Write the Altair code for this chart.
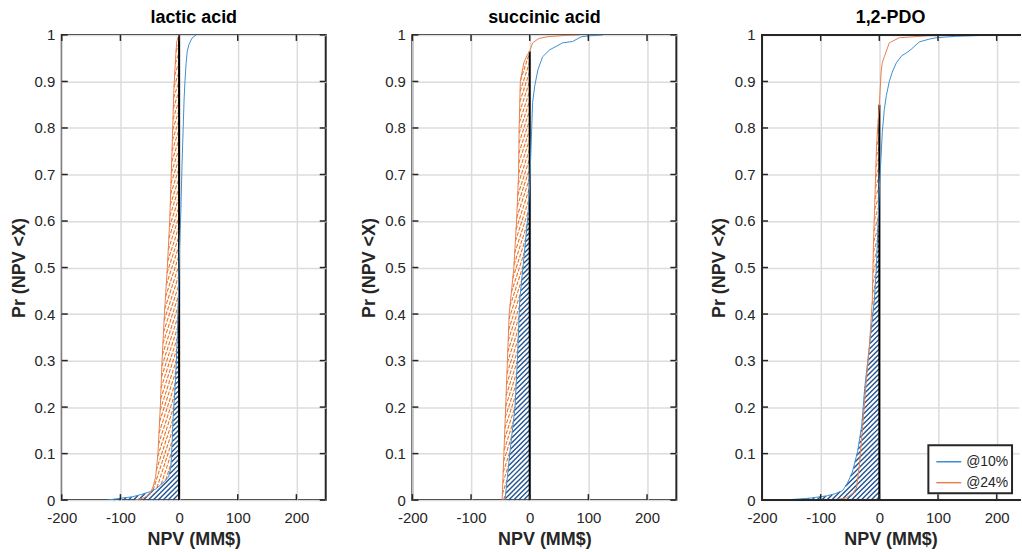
import altair as alt
import numpy as np
import pandas as pd

panels = ["lactic acid", "succinic acid", "1,2-PDO"]
series = ["@10%", "@24%"]
x_ticks = [-200, -100, 0, 100, 200]
y_ticks = [0, 0.1, 0.2, 0.3, 0.4, 0.5, 0.6, 0.7, 0.8, 0.9, 1]

# ---- lactic acid ----
lac_b_x = [-122, -100, -80, -65, -50, -40, -34, -25, -18, -14, -12, -10, -6, -3, -1, 1, 3, 5, 7, 8.5, 10, 12, 14, 17, 22, 29]
lac_b_y = [0, 0.004, 0.007, 0.012, 0.018, 0.024, 0.03, 0.04, 0.05, 0.07, 0.12, 0.18, 0.26, 0.35, 0.45, 0.55, 0.62, 0.72, 0.8, 0.86, 0.9, 0.94, 0.965, 0.98, 0.993, 1.0]
lac_o_x = [-75, -60, -50, -44, -40, -36, -32, -29, -25, -20, -16, -12, -9, -6, -4, -2, 0, 3]
lac_o_y = [0, 0.005, 0.012, 0.03, 0.05, 0.1, 0.2, 0.3, 0.4, 0.5, 0.6, 0.75, 0.88, 0.95, 0.985, 0.995, 0.998, 1.0]

# ---- succinic acid ----
suc_b_x = [-42, -38, -34, -25, -21, -17, -10, -3, 0, 2, 3.4, 5, 8.5, 14, 22, 34, 46, 56, 73, 88, 100, 125]
suc_b_y = [0, 0.05, 0.1, 0.2, 0.3, 0.43, 0.52, 0.61, 0.68, 0.75, 0.8, 0.855, 0.89, 0.925, 0.953, 0.968, 0.976, 0.983, 0.986, 0.996, 0.998, 1.0]
suc_o_x = [-47, -44, -41, -38, -35, -27, -22, -19, -18, -16, -10, -5, 0, 5, 15, 29, 60, 85]
suc_o_y = [0, 0.1, 0.2, 0.3, 0.4, 0.5, 0.61, 0.7, 0.8, 0.9, 0.94, 0.955, 0.965, 0.983, 0.992, 0.996, 0.999, 1.0]

# ---- 1,2-PDO ----
pdo_b_x = [-164, -120, -90, -75, -63, -55, -46, -37, -30, -25, -17, -8.5, -5, -2, 0, 3, 5, 8.5, 12, 17, 22, 29, 38, 48, 55, 68, 85, 97, 130, 175, 240]
pdo_b_y = [0, 0.004, 0.009, 0.014, 0.02, 0.035, 0.06, 0.105, 0.16, 0.24, 0.33, 0.43, 0.5, 0.6, 0.67, 0.74, 0.79, 0.84, 0.87, 0.9, 0.92, 0.94, 0.955, 0.963, 0.97, 0.985, 0.991, 0.994, 0.997, 0.999, 1.0]
pdo_o_x = [-90, -70, -56, -45, -39, -34, -29, -22, -17, -12, -10, -8.5, -5, -3, 0, 3, 5, 8.5, 17, 34, 80, 170]
pdo_o_y = [0, 0.002, 0.005, 0.015, 0.026, 0.075, 0.15, 0.26, 0.33, 0.43, 0.55, 0.61, 0.75, 0.8, 0.85, 0.92, 0.94, 0.953, 0.983, 0.994, 0.998, 1.0]

curves = [
    (lac_b_x, lac_b_y, lac_o_x, lac_o_y),
    (suc_b_x, suc_b_y, suc_o_x, suc_o_y),
    (pdo_b_x, pdo_b_y, pdo_o_x, pdo_o_y),
]

H = 467
PX_PER_UNIT = 265 / 450.0
widths = [265, 265, 258]
domains = [[-200, 250], [-200, 250], [-200, -200 + 258 / PX_PER_UNIT]]

BLUE = "#3d8fd1"
ORANGE = "#e8804f"
BLUE_HATCH = "#22528f"
ORANGE_HATCH = "#ea7324"
INK = "#262626"
FONT = "Liberation Sans"


def hatch(left_x, left_y, right_x, right_y, x0, x1, W, angle, gap):
    """Hatch segments (in data units) inside left(y) <= x <= min(0, right(y))."""
    a = np.deg2rad(angle)
    d = np.array([np.cos(a), np.sin(a)])
    n = np.array([-np.sin(a), np.cos(a)])
    sx = W / (x1 - x0)
    corners = np.array([[0, 0], [W, 0], [0, H], [W, H]], dtype=float)
    cs = corners @ n
    ts = corners @ d
    t = np.arange(ts.min(), ts.max(), 0.25)
    segs = []
    for c in np.arange(cs.min(), cs.max(), gap):
        u = c * n[0] + t * d[0]
        v = c * n[1] + t * d[1]
        xd = x0 + u / sx
        yd = v / H
        lft = np.interp(yd, left_y, left_x)
        rgt = 0.0 if right_x is None else np.minimum(0.0, np.interp(yd, right_y, right_x))
        inside = (u >= 0) & (u <= W) & (v >= 0) & (v <= H) & (xd >= lft) & (xd <= rgt)
        edges = np.flatnonzero(np.diff(np.concatenate([[0], inside.astype(int), [0]])))
        for s, e in zip(edges[::2], edges[1::2]):
            if e - 1 > s:
                segs.append((xd[s], yd[s], xd[e - 1], yd[e - 1]))
    return pd.DataFrame(segs, columns=["x", "y", "x2", "y2"])


def panel(i):
    bx, by, ox, oy = curves[i]
    W = widths[i]
    x0, x1 = domains[i]
    last = i == 2
    xs = alt.Scale(domain=[x0, x1], nice=False, zero=False)
    ys = alt.Scale(domain=[0, 1], nice=False, zero=False)
    xaxis = alt.Axis(values=x_ticks, title="NPV (MM$)", format="d", labelFlush=False,
                     labelExpr="replace(datum.label, '\u2212', '-')")
    yaxis = alt.Axis(values=y_ticks, title="Pr (NPV <X)", format=".1~f", labelFlush=False)

    def X(f):
        return alt.X(f, scale=xs, axis=xaxis)

    def Y(f):
        return alt.Y(f, scale=ys, axis=yaxis)

    df = pd.concat([
        pd.DataFrame({"x": bx, "y": by, "series": series[0], "idx": range(len(bx))}),
        pd.DataFrame({"x": ox, "y": oy, "series": series[1], "idx": range(len(ox))}),
    ])

    legend = None
    if last:
        legend = alt.Legend(orient="bottom-right", title=None, offset=7,
                            strokeColor=INK, fillColor="white", padding=3,
                            symbolType="stroke", symbolSize=625, symbolStrokeWidth=1.5,
                            symbolOffset=4,
                            labelFontSize=14, labelFont=FONT, labelColor=INK,
                            rowPadding=-5, labelOffset=4,
                            labelExpr="datum.label + '  '")

    oh = hatch(ox, oy, bx, by, x0, x1, W, 72, 3.0)
    bh = hatch(bx, by, None, None, x0, x1, W, 45, 3.5)

    orange_h = alt.Chart(oh).mark_rule(color=ORANGE_HATCH, strokeWidth=1.1, strokeDash=[4, 1.5]).encode(
        x=X("x:Q"), y=Y("y:Q"), x2="x2:Q", y2="y2:Q")
    blue_h = alt.Chart(bh).mark_rule(color=BLUE_HATCH, strokeWidth=1.4).encode(
        x=X("x:Q"), y=Y("y:Q"), x2="x2:Q", y2="y2:Q")

    ytop = float(np.interp(0.0, ox, oy))
    zero_line = alt.Chart(pd.DataFrame({"x": [0.0], "y": [0.0], "y2": [ytop]})).mark_rule(
        color="black", strokeWidth=2).encode(x=X("x:Q"), y=Y("y:Q"), y2="y2:Q")

    lines = alt.Chart(df).mark_line(strokeWidth=1, clip=True).encode(
        x=X("x:Q"), y=Y("y:Q"),
        color=alt.Color("series:N", scale=alt.Scale(domain=series, range=[BLUE, ORANGE]), legend=legend),
        order="idx:Q",
    )

    xt = pd.DataFrame({"v": [v for v in x_ticks if x0 <= v <= x1]})
    yt = pd.DataFrame({"v": y_ticks})
    tick_style = dict(color=INK, strokeWidth=1.5)
    layers = [orange_h, blue_h, zero_line, lines]
    layers.append(alt.Chart(xt).mark_rule(**tick_style).encode(x=X("v:Q"), y=alt.value(0), y2=alt.value(6)))
    layers.append(alt.Chart(xt).mark_rule(**tick_style).encode(x=X("v:Q"), y=alt.value(H), y2=alt.value(H - 6)))
    layers.append(alt.Chart(yt).mark_rule(**tick_style).encode(y=Y("v:Q"), x=alt.value(0), x2=alt.value(6)))
    if not last:
        layers.append(alt.Chart(yt).mark_rule(**tick_style).encode(y=Y("v:Q"), x=alt.value(W - 6), x2=alt.value(W)))
        return alt.layer(*layers).properties(width=W, height=H, title=panels[i])

    # last panel: its right edge falls outside the picture, so draw only top/bottom/left borders
    border = dict(color=INK, strokeWidth=2)
    frame = pd.DataFrame({"v": [0]})
    layers.append(alt.Chart(frame).mark_rule(**border).encode(x=alt.value(0), x2=alt.value(W + 2), y=alt.value(0)))
    layers.append(alt.Chart(frame).mark_rule(**border).encode(x=alt.value(0), x2=alt.value(W + 2), y=alt.value(H)))
    layers.append(alt.Chart(frame).mark_rule(**border).encode(x=alt.value(0), y=alt.value(-1), y2=alt.value(H + 1)))
    return alt.layer(*layers).properties(
        width=W, height=H, title=panels[i],
        view=alt.ViewBackground(stroke="transparent", strokeWidth=0))


chart = alt.hconcat(*[panel(i) for i in range(3)], spacing=32).resolve_legend(
    color="independent"
).properties(
    padding={"left": 9, "top": 7, "right": 0, "bottom": 0}
).configure_view(
    stroke=INK, strokeWidth=2
).configure_axis(
    grid=True, gridColor="#dcdcdc", gridWidth=1.5, ticks=False, domain=False,
    labelFont=FONT, labelFontSize=15, labelColor=INK, labelPadding=7,
    titleFont=FONT, titleFontSize=18, titleFontWeight="bold", titleColor=INK,
).configure_axisY(titlePadding=6).configure_axisX(titlePadding=6, labelPadding=10).configure_title(
    font=FONT, fontSize=18, fontWeight="bold", color="black", offset=1
).configure_legend(strokeWidth=2)

chart.save("out.html", embed_options={"renderer": "svg", "actions": False})
